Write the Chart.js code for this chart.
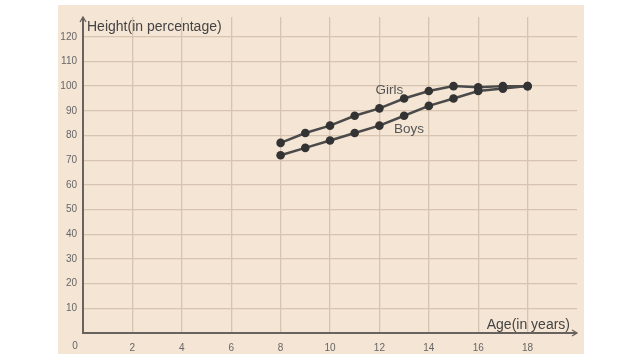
<!DOCTYPE html>
<html>
<head>
<meta charset="utf-8">
<script src="https://cdn.jsdelivr.net/npm/chart.js@4"></script>
<style>
  html, body { margin: 0; padding: 0; background: #fff; }
  #wrap { width: 640px; height: 360px; }
</style>
</head>
<body>
<div id="wrap"><canvas id="heightChart" width="640" height="360"></canvas></div>
<script>
var ages = [8, 9, 10, 11, 12, 13, 14, 15, 16, 17, 18];
var girls = [77, 81, 84, 88, 91, 95, 98, 100, 99.5, 100, 100];
var boys = [72, 75, 78, 81, 84, 88, 92, 95, 98, 99, 100];
var xTicks = [0, 2, 4, 6, 8, 10, 12, 14, 16, 18, 20];
var yTicks = [0, 10, 20, 30, 40, 50, 60, 70, 80, 90, 100, 110, 120];

function points(vals) {
    return ages.map(function (a, i) { return { x: a, y: vals[i] }; });
}

// beige panel, axis lines with arrows, titles and series labels
var decor = {
    id: 'decor',
    beforeDraw: function (chart) {
        var c = chart.ctx;
        c.save();
        c.fillStyle = '#f5e5d4';
        c.fillRect(58, 5, 526, 349);
        c.restore();
    },
    afterDraw: function (chart) {
        var c = chart.ctx, a = chart.chartArea;
        var xs = chart.scales.x, ys = chart.scales.y;
        c.save();
        c.strokeStyle = '#68625e';
        c.lineWidth = 2;
        c.beginPath();
        c.moveTo(a.left, a.top);
        c.lineTo(a.left, a.bottom);
        c.lineTo(a.right, a.bottom);
        c.stroke();
        c.lineWidth = 1.3;
        c.beginPath();
        c.moveTo(a.left - 3, a.top + 5);
        c.lineTo(a.left, a.top);
        c.lineTo(a.left + 3, a.top + 5);
        c.moveTo(a.right - 5, a.bottom - 3);
        c.lineTo(a.right, a.bottom);
        c.lineTo(a.right - 5, a.bottom + 3);
        c.stroke();

        c.fillStyle = '#444';
        c.font = '14px "Liberation Sans", Arial, sans-serif';
        c.textBaseline = 'middle';
        c.textAlign = 'left';
        c.fillText('Height(in percentage)', a.left + 4, 27);
        c.textAlign = 'right';
        c.fillText('Age(in years)', a.right - 7, a.bottom - 8);

        c.fillStyle = '#555';
        c.textAlign = 'center';
        c.font = '13.5px "Liberation Sans", Arial, sans-serif';
        c.fillText('Girls', xs.getPixelForValue(12.4), ys.getPixelForValue(98.5));
        c.fillText('Boys', xs.getPixelForValue(13.2), ys.getPixelForValue(82.5));

        c.font = '10px "Liberation Sans", Arial, sans-serif';
        c.fillStyle = '#666';
        c.fillText('0', a.left - 8, a.bottom + 13);
        c.restore();
    }
};

var ctx = document.getElementById('heightChart').getContext('2d');
var chart = new Chart(ctx, {
    type: 'line',
    data: {
        datasets: [{
            label: 'Girls',
            data: points(girls),
            borderColor: '#4a4a4a',
            backgroundColor: '#333',
            borderWidth: 2.5,
            pointRadius: 4.3,
            pointBorderWidth: 0,
            fill: false,
            tension: 0
        }, {
            label: 'Boys',
            data: points(boys),
            borderColor: '#4a4a4a',
            backgroundColor: '#333',
            borderWidth: 2.5,
            pointRadius: 4.3,
            pointBorderWidth: 0,
            fill: false,
            tension: 0
        }]
    },
    options: {
        responsive: false,
        animation: false,
        layout: { padding: { left: 58, top: 17, right: 63, bottom: 0 } },
        plugins: { legend: { display: false }, tooltip: { enabled: false } },
        scales: {
            x: {
                type: 'linear',
                min: 0,
                max: 20,
                afterBuildTicks: function (s) { s.ticks = xTicks.map(function (v) { return { value: v }; }); },
                afterFit: function (s) { s.height = 27; },
                border: { display: false },
                grid: {
                    color: function (g) { return (g.tick.value === 0 || g.tick.value === 20) ? 'rgba(0,0,0,0)' : '#d6c4b1'; },
                    lineWidth: 1.3,
                    drawTicks: false
                },
                ticks: {
                    padding: 9,
                    color: '#666',
                    font: { family: '"Liberation Sans", Arial, sans-serif', size: 10 },
                    maxRotation: 0,
                    callback: function (v) { return (v === 0 || v === 20) ? '' : v; }
                }
            },
            y: {
                min: 0,
                max: 128,
                afterBuildTicks: function (s) { s.ticks = yTicks.map(function (v) { return { value: v }; }); },
                afterFit: function (s) { s.width = 25; },
                border: { display: false },
                grid: {
                    color: function (g) { return g.tick.value === 0 ? 'rgba(0,0,0,0)' : '#d6c4b1'; },
                    lineWidth: 1.3,
                    drawTicks: false
                },
                ticks: {
                    padding: 6,
                    color: '#666',
                    font: { family: '"Liberation Sans", Arial, sans-serif', size: 10 },
                    callback: function (v) { return v === 0 ? '' : v; }
                }
            }
        }
    },
    plugins: [decor]
});
</script>
</body>
</html>
